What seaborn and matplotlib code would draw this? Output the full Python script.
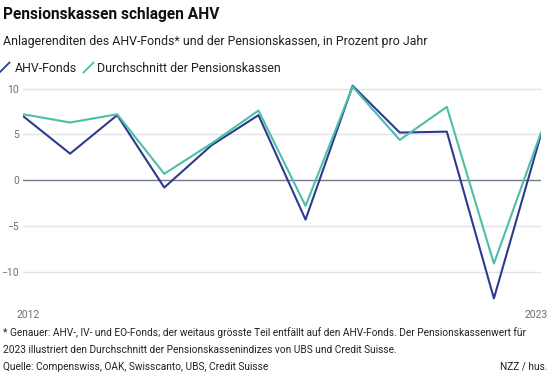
import numpy as np
import pandas as pd
import matplotlib
matplotlib.use("Agg")
import matplotlib.pyplot as plt
import matplotlib.transforms as mtransforms
import seaborn as sns
from matplotlib.lines import Line2D

# data (returns in %)
years = list(range(2012, 2024))
ahv_fonds = [7.0, 2.9, 7.1, -0.8, 3.8, 7.1, -4.3, 10.3, 5.2, 5.3, -12.9, 5.0]
pensionskassen = [7.2, 6.3, 7.2, 0.7, 4.0, 7.6, -2.8, 10.2, 4.4, 8.0, -9.1, 5.2]
series_names = ["AHV-Fonds", "Durchschnitt der Pensionskassen"]
colors = ["#2c3c8c", "#4cbfa8"]
y_ticks = [-10, -5, 0, 5, 10]

df = pd.DataFrame({"Jahr": years, series_names[0]: ahv_fonds, series_names[1]: pensionskassen})
df = df.melt(id_vars="Jahr", var_name="Serie", value_name="Rendite")

sns.set_style("white")
plt.rcParams["font.family"] = ["Roboto", "DejaVu Sans"]

fig = plt.figure(figsize=(5.5, 3.78), dpi=100)
ax = fig.add_axes([23 / 550, 1 - 303 / 378, (541 - 23) / 550, (303 - 84) / 378])

sns.lineplot(data=df, x="Jahr", y="Rendite", hue="Serie", hue_order=series_names,
             palette=colors, linewidth=1.5, ax=ax, legend=False)

ax.set_xlim(2012, 2023)
ax.set_ylim(-13.4, 10.5)
ax.set_yticks(y_ticks)
ax.set_yticklabels([str(t).replace("-", "\u2212") for t in y_ticks])
ax.set_xticks([2012, 2023])
ax.set_xticklabels(["2012", "2023"])
for t in y_ticks:
    if t == 0:
        ax.axhline(t, color="#73778f", lw=1.0, zorder=0)
    else:
        ax.axhline(t, color="#e2e2e8", lw=1.0, zorder=0)
for s in ax.spines.values():
    s.set_visible(False)
ax.tick_params(axis="y", length=0, pad=3, labelsize=7.5, labelcolor="#6e6e6e")
ax.tick_params(axis="x", direction="in", length=4, width=0.6, color="#cfcfcf",
               pad=5, labelsize=7.5, labelcolor="#6e6e6e")
ax.set_xlabel("")
ax.set_ylabel("")

# nudge the end labels inwards like the original
xl = ax.get_xticklabels()
xl[0].set_transform(xl[0].get_transform() + mtransforms.ScaledTranslation(5 / 100, 0, fig.dpi_scale_trans))
xl[1].set_horizontalalignment("right")
xl[1].set_transform(xl[1].get_transform() + mtransforms.ScaledTranslation(7 / 100, 0, fig.dpi_scale_trans))

# titles
fig.text(3 / 550, 1 - 15 / 378, "Pensionskassen schlagen AHV", fontsize=11.2,
         fontweight="bold", va="center", ha="left", color="#111111")
fig.text(3 / 550, 1 - 42 / 378,
         "Anlagerenditen des AHV-Fonds* und der Pensionskassen, in Prozent pro Jahr",
         fontsize=8.9, va="center", ha="left", color="#222222")

# legend with slash glyphs
handles = [Line2D([], [], color=c, marker=[(-1, -1), (1, 1)], linestyle="None",
                  markersize=8, markeredgewidth=1.3) for c in colors]
fig.legend(handles, series_names, loc="center left", bbox_to_anchor=(-0.02, 1 - 68 / 378),
           frameon=False, ncol=2, fontsize=8.9, handlelength=0.7, handletextpad=0.45,
           columnspacing=0.55, labelcolor="#222222")

# footnotes
foot = "#222222"
fig.text(3 / 550, 1 - 333 / 378,
         "* Genauer: AHV-, IV- und EO-Fonds; der weitaus grösste Teil entfällt auf den AHV-Fonds. Der Pensionskassenwert für",
         fontsize=7.3, va="center", ha="left", color=foot)
fig.text(3 / 550, 1 - 350 / 378,
         "2023 illustriert den Durchschnitt der Pensionskassenindizes von UBS und Credit Suisse.",
         fontsize=7.3, va="center", ha="left", color=foot)
fig.text(3 / 550, 1 - 367 / 378, "Quelle: Compenswiss, OAK, Swisscanto, UBS, Credit Suisse",
         fontsize=7.3, va="center", ha="left", color=foot)
fig.text(548 / 550, 1 - 367 / 378, "NZZ / hus.", fontsize=7.3, va="center", ha="right", color=foot)

fig.savefig("out.png", dpi=100)
